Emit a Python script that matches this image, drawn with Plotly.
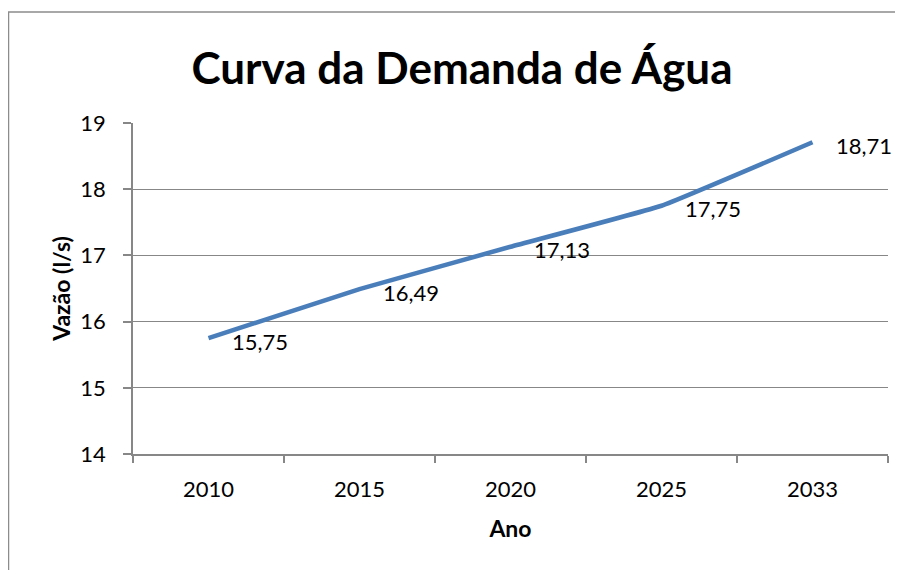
import plotly.graph_objects as go

anos = ["2010", "2015", "2020", "2025", "2033"]
vazao = [15.75, 16.49, 17.13, 17.75, 18.71]
y_ticks = [14, 15, 16, 17, 18, 19]

# page body has an 8px margin, so the figure is offset by (8, 8) on screen
W, H = 895, 562
L, R, T, B = 125, 15, 115, 116
pw, ph = W - L - R, H - T - B

FONT = "Lato, 'Open Sans', sans-serif"
GRAY = "#878787"
SZ = 22

fig = go.Figure()
fig.add_trace(go.Scatter(
    x=anos, y=vazao, mode="lines",
    line=dict(color="#4a7ebb", width=4.5, shape="spline", smoothing=0.3),
    hoverinfo="skip", showlegend=False,
))

for i, v in enumerate(vazao):
    fig.add_annotation(
        x=i, y=v, xref="x", yref="y",
        text=f"{v:.2f}".replace(".", ","),
        showarrow=False, xanchor="left", yanchor="middle",
        xshift=21, yshift=-3,
        font=dict(family=FONT, size=SZ, color="#000000"),
    )

fig.add_shape(type="rect", xref="paper", yref="paper",
              x0=(0.5 - L) / pw, x1=1.2, y0=-0.6, y1=1 + (T - 4) / ph,
              line=dict(color="#8c8c8c", width=1.5), layer="below")

fig.update_layout(
    width=W, height=H,
    margin=dict(l=L, r=R, t=T, b=B, autoexpand=False),
    paper_bgcolor="white", plot_bgcolor="white",
    font=dict(family=FONT, color="#000000"),
    title=dict(text="<b>Curva da Demanda de Água</b>", x=454 / W, y=1 - 61 / H,
               xanchor="center", yanchor="middle",
               font=dict(family=FONT, size=44, color="#000000")),
    xaxis=dict(
        type="category", categoryorder="array", categoryarray=anos,
        range=[-0.5, len(anos) - 0.5], automargin=False,
        showgrid=False, showline=True, linecolor=GRAY, linewidth=1.5,
        ticks="outside", tickson="boundaries", ticklen=7, tickcolor=GRAY, tickwidth=1.5,
        tickangle=0, ticklabelstandoff=15,
        tickfont=dict(family=FONT, size=SZ, color="#000000"),
        title=dict(text="<b>Ano</b>", font=dict(family=FONT, size=23), standoff=20),
        zeroline=False, fixedrange=True,
    ),
    yaxis=dict(
        range=[14, 19], tickvals=y_ticks, showgrid=True, gridcolor=GRAY, gridwidth=1.2,
        automargin=False,
        showline=True, linecolor=GRAY, linewidth=1.5,
        ticks="outside", ticklen=8, tickcolor=GRAY, tickwidth=1.5,
        ticklabelstandoff=13,
        tickfont=dict(family=FONT, size=SZ, color="#000000"),
        title=dict(text="<b>Vazão (l/s)</b>", font=dict(family=FONT, size=23), standoff=3),
        zeroline=False, fixedrange=True,
    ),
)

fig.write_html("out.html")
